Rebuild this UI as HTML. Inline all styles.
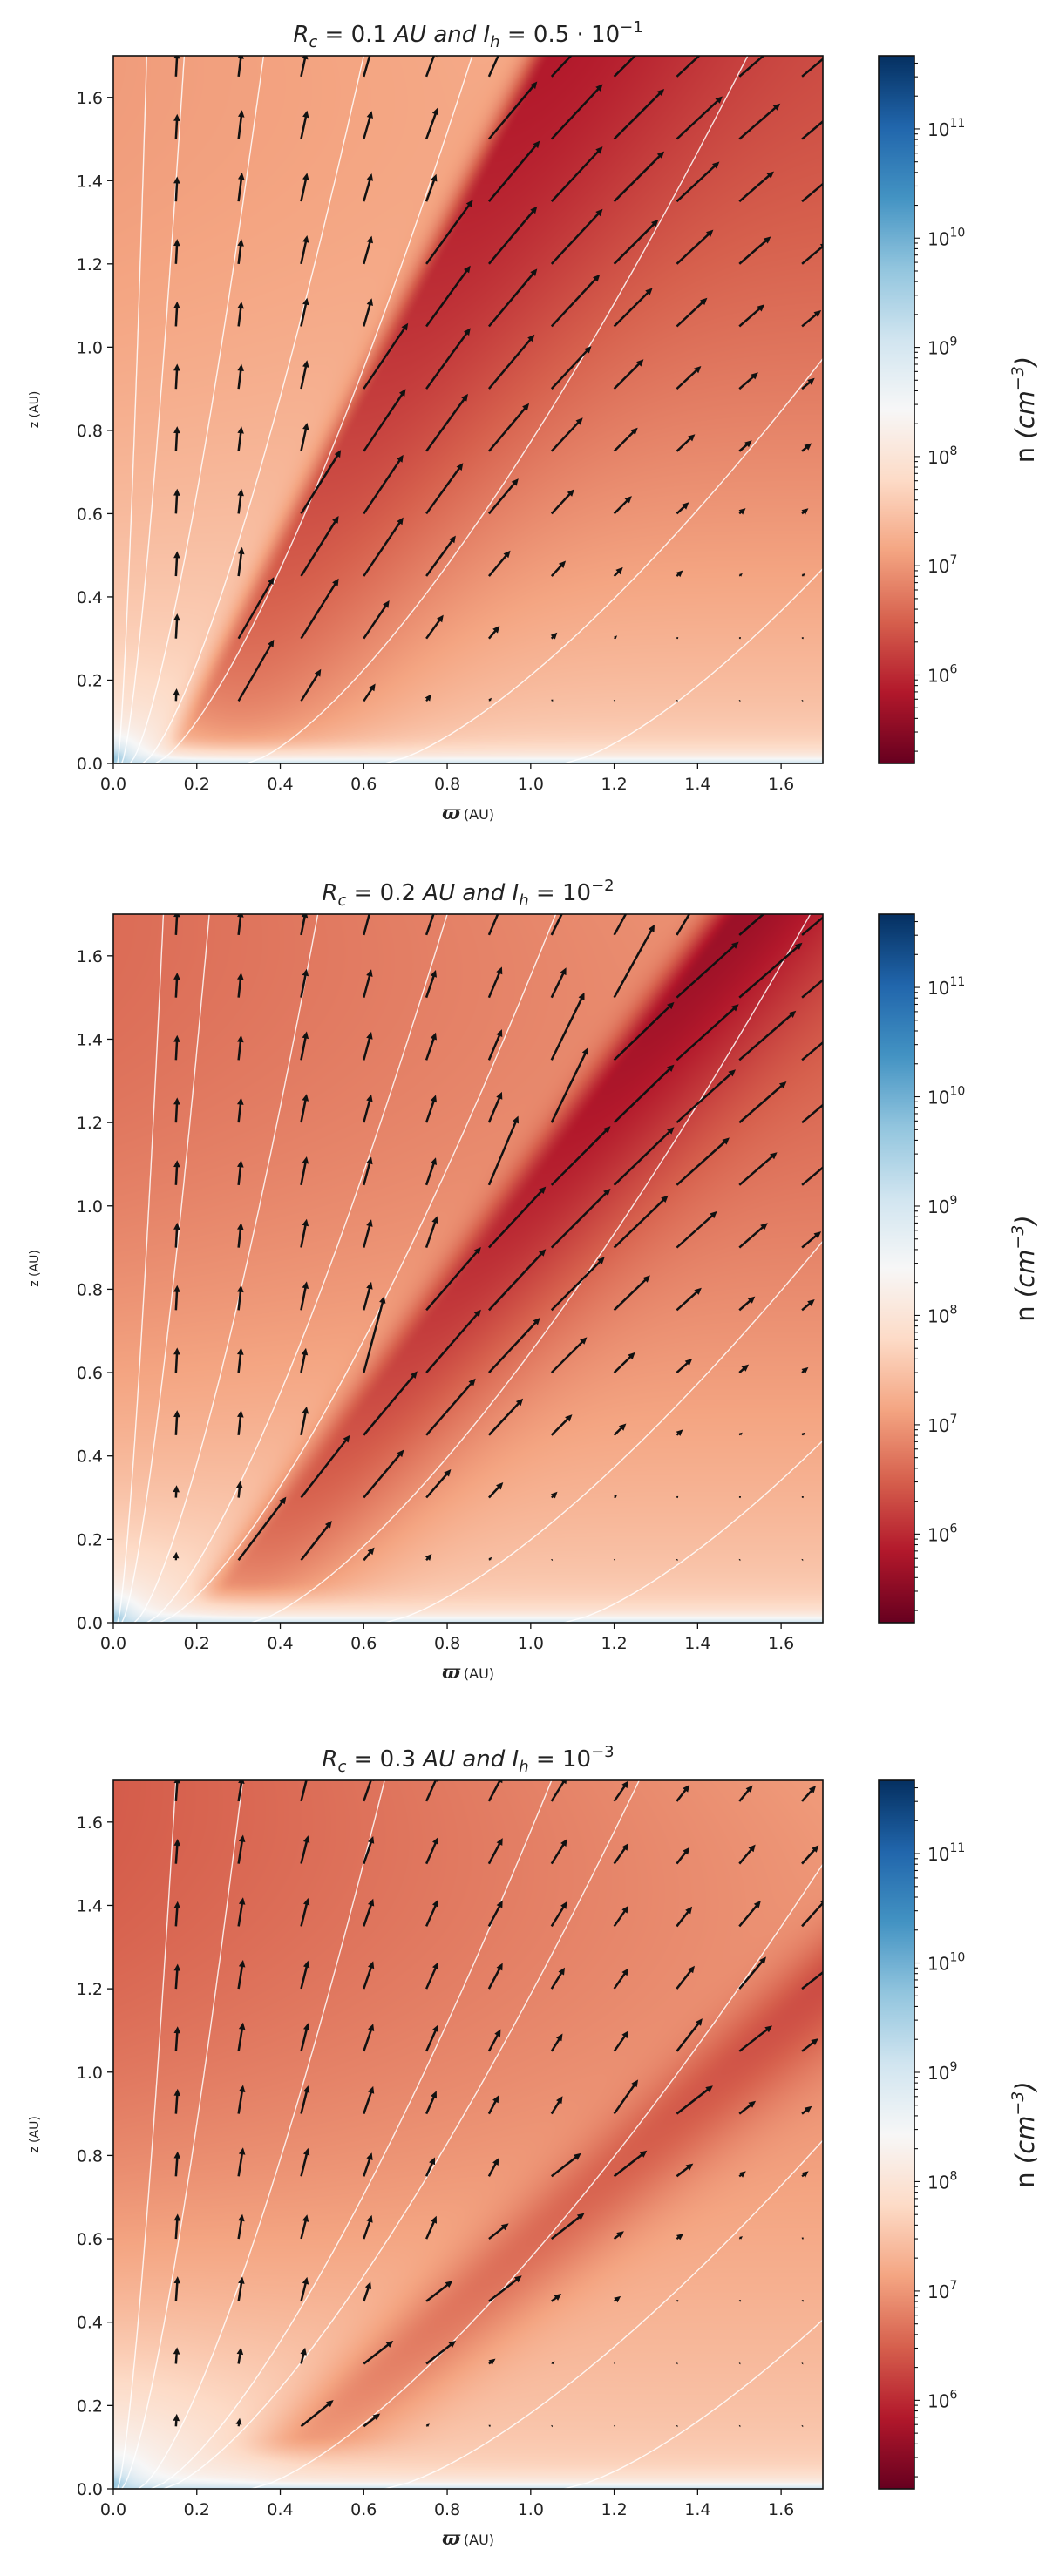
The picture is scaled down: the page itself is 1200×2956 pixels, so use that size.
<!DOCTYPE html>
<html><head><meta charset="utf-8">
<style>
html,body{margin:0;padding:0;background:#fff;}
#root{position:relative;width:1200px;height:2956px;overflow:hidden;background:#fff;}
canvas{position:absolute;}
svg{position:absolute;left:0;top:0;}
text{font-family:"DejaVu Sans","Liberation Sans",sans-serif;fill:#222;}
</style></head>
<body>
<div id="root">
<canvas id="hm0" width="814" height="812" style="left:130px;top:64px"></canvas>
<canvas id="hm1" width="814" height="813" style="left:130px;top:1049px"></canvas>
<canvas id="hm2" width="814" height="813" style="left:130px;top:2043px"></canvas>
<canvas id="cb0" width="41" height="812" style="left:1008px;top:64px"></canvas>
<canvas id="cb1" width="41" height="813" style="left:1008px;top:1049px"></canvas>
<canvas id="cb2" width="41" height="813" style="left:1008px;top:2043px"></canvas>
<svg id="ov" width="1200" height="2956"></svg>
</div>
<script>
// ===== data =====
const xTicks = [0.0,0.2,0.4,0.6,0.8,1.0,1.2,1.4,1.6];
const yTicks = [0.0,0.2,0.4,0.6,0.8,1.0,1.2,1.4,1.6];
const cbExponents = [6,7,8,9,10,11];
const cbRange = [5.19, 11.67];
const gridPos = [0.15,0.30,0.45,0.60,0.75,0.90,1.05,1.20,1.35,1.50,1.65];

// arrow lengths (0.01 AU), rows bottom (z=0.15) -> top, columns x=0.15..1.65
const p1Len = [
 [3,17,9,5,2,1,0.5,0.3,0.3,0.3,0.3],
 [6,17,17,11,7,4,2,1,0.5,0.5,0.5],
 [6,7,17,17,12,8,5,3,2,1,1],
 [6,6,18,17,15,11,8,6,4,2,2],
 [6,6,7,18,17,15,11,8,6,4,3],
 [6,6,7,19,18,17,14,10,8,6,4],
 [6,6,7,7,18,18,17,13,10,8,6],
 [6,6,7,7,19,18,18,15,12,10,8],
 [6,7,7,7,7,19,18,17,14,11,9],
 [6,7,7,7,8,18,18,17,15,13,10],
 [6,6,6,7,7,18,18,18,17,15,12]];
const p1AngL = [87,83,78,74,70,66,63,60,58,56,55];
const p1AngR = [62,60,58,56,54,50,47,45,43,41,40];
const p2Len = [
 [2,19,12,4,2,1,0.3,0.3,0.3,0.3,0.3],
 [3,4,19,15,9,5,2,1,0.5,0.5,0.5],
 [6,6,7,20,18,12,7,4,2,1,1],
 [6,6,6,19,20,18,12,7,5,3,2],
 [6,6,7,7,20,20,18,12,8,5,4],
 [6,6,7,7,8,20,20,18,13,9,6],
 [6,6,7,7,7,18,20,20,17,12,9],
 [6,6,7,7,7,8,20,20,19,15,12],
 [6,6,7,7,7,8,18,20,20,18,14],
 [6,6,7,7,7,8,8,20,20,20,17],
 [6,6,6,7,7,8,8,18,20,20,19]];
const p2AngL = [87,84,79,75,71,67,64,61,59,57,55];
const p2AngR = [55,53,52,50,49,47,45,44,42,41,40];
const p3Len = [
 [3,2,10,5,1,0.5,0.3,0.3,0.3,0.3,0.3],
 [4,4,4,9,9,2,1,0.3,0.3,0.3,0.3],
 [6,6,6,5,8,10,3,2,0.5,0.5,0.5],
 [6,6,6,6,6,6,10,3,2,1,0.5],
 [6,7,7,6,5,5,9,10,5,2,2],
 [6,7,7,7,6,5,5,10,11,5,3],
 [6,7,7,7,7,6,5,6,10,10,5],
 [6,7,7,7,7,7,6,6,7,10,9],
 [6,7,7,7,7,7,7,6,6,8,9],
 [6,7,7,7,7,7,7,6,5,6,6],
 [6,6,7,7,7,7,7,6,5,5,5]];
const p3AngL = [86,81,76,71,66,62,58,55,52,50,48];
const p3AngR = [42,40,39,38,38,38,38,38,38,38,38];

// field lines: footpoint x0 and x at z=1.7
const p1LineX0 = [0.01,0.02,0.04,0.07,0.10,0.32,0.65,1.08];
const p1LineXT = [0.08,0.17,0.36,0.60,0.86,1.52,2.22,2.65];
const p2LineX0 = [0.01,0.02,0.05,0.08,0.11,0.33,0.65,1.08];
const p2LineXT = [0.12,0.23,0.49,0.80,1.06,1.67,2.29,2.73];
const p3LineX0 = [0.01,0.02,0.06,0.09,0.12,0.33,0.65,1.08];
const p3LineXT = [0.15,0.31,0.65,1.05,1.26,1.83,2.40,2.82];

// density model parameters (log10 n)
const p1Band = [0.15,0.0,1.05,1.70];
const p1BandLog = [5.85,6.8];
const p1Levels = [7.05,7.85,6.35,7.6,0.15];
const p1Widths = [0.05,0.42,0.10];
const p2Band = [0.24,0.03,1.50,1.70];
const p2BandLog = [5.65,6.8];
const p2Levels = [6.6,7.85,6.45,7.6,0.25];
const p2Widths = [0.07,0.30,0.10];
const p3Band = [0.40,0.06,2.26,1.70];
const p3BandLog = [6.2,6.95];
const p3Levels = [6.45,7.9,6.75,7.6,0.35];
const p3Widths = [0.14,0.20,0.18];

const titles = [
 {rc:"0.1", ih:["0.5 · 10","−1"]},
 {rc:"0.2", ih:["10","−2"]},
 {rc:"0.3", ih:["10","−3"]}];

// ===== geometry =====
const PX=130, PW=814, TOPS=[64,1049,2043], PH=[812,813,813], XMAX=1.7;
const CBX=1008, CBW=41;
function sx(x){return PX + x/XMAX*PW;}
function sy(i,z){return TOPS[i] + PH[i] - z/XMAX*PH[i];}

const RDBU=[[103,0,31],[178,24,43],[214,96,77],[244,165,130],[253,219,199],[247,247,247],[209,229,240],[146,197,222],[67,147,195],[33,102,172],[5,48,97]];
function cmap(v){
  let f=(v-cbRange[0])/(cbRange[1]-cbRange[0]); f=Math.max(0,Math.min(1,f))*10;
  let k=Math.min(9,Math.floor(f)), t=f-k, a=RDBU[k], b=RDBU[k+1];
  return [a[0]+(b[0]-a[0])*t, a[1]+(b[1]-a[1])*t, a[2]+(b[2]-a[2])*t];
}
function sstep(a,b,x){let t=Math.max(0,Math.min(1,(x-a)/(b-a)));return t*t*(3-2*t);}

const P=[
 {band:p1Band,bl:p1BandLog,lev:p1Levels,w:p1Widths,len:p1Len,aL:p1AngL,aR:p1AngR,lx0:p1LineX0,lxt:p1LineXT},
 {band:p2Band,bl:p2BandLog,lev:p2Levels,w:p2Widths,len:p2Len,aL:p2AngL,aR:p2AngR,lx0:p2LineX0,lxt:p2LineXT},
 {band:p3Band,bl:p3BandLog,lev:p3Levels,w:p3Widths,len:p3Len,aL:p3AngL,aR:p3AngR,lx0:p3LineX0,lxt:p3LineXT}];

function xcOf(p,z){const b=p.band;return b[0]+(b[2]-b[0])*(z-b[1])/(b[3]-b[1]);}
function logn(p,x,z){
  const t=Math.max(0,Math.min(1,z/XMAX)), L=p.lev;
  const xc=xcOf(p,z);
  const left=L[0]+(L[1]-L[0])*Math.pow(1-t,2)+L[4]*Math.min(x,Math.max(xc,0))*t;
  const right=L[2]+(L[3]-L[2])*Math.pow(1-t,1.5);
  const bandv=p.bl[0]+(p.bl[1]-p.bl[0])*Math.pow(1-t,1.5);
  const h=x-xc;
  const s=sstep(p.band[1]-0.02,p.band[1]+0.07,z);
  const base=left+(right-left)/(1+Math.exp(-h/0.03));
  const w=h<0?p.w[0]:p.w[1];
  let v=base+(bandv-base)*Math.exp(-(h/w)*(h/w))*s;
  const r=Math.hypot(x,z);
  const eo=Math.exp(-r/p.w[2]);
  if(v<8.7) v=v+(8.7-v)*eo;
  v=v+(10.8-v)*Math.exp(-r/0.025);
  const wd=Math.exp(-z/0.016);
  v=v*(1-wd)+9.3*wd;
  const wh=Math.exp(-z/0.05);
  if(v<8.2) v=v+(8.2-v)*0.55*wh;
  return v;
}

// ===== heatmaps =====
for(let i=0;i<3;i++){
  const c=document.getElementById('hm'+i), ctx=c.getContext('2d');
  const W=c.width,H=c.height,img=ctx.createImageData(W,H),d=img.data;
  for(let py=0;py<H;py++){
    const z=(H-py-0.5)/H*XMAX;
    for(let px=0;px<W;px++){
      const x=(px+0.5)/W*XMAX;
      const col=cmap(logn(P[i],x,z)), o=(py*W+px)*4;
      d[o]=col[0];d[o+1]=col[1];d[o+2]=col[2];d[o+3]=255;
    }
  }
  ctx.putImageData(img,0,0);
  const cb=document.getElementById('cb'+i), cx=cb.getContext('2d');
  for(let py=0;py<cb.height;py++){
    const v=cbRange[1]-(py+0.5)/cb.height*(cbRange[1]-cbRange[0]);
    const col=cmap(v);
    cx.fillStyle='rgb('+col.map(Math.round).join(',')+')';
    cx.fillRect(0,py,cb.width,1);
  }
}

// ===== overlay =====
const NS='http://www.w3.org/2000/svg', ov=document.getElementById('ov');
function el(tag,attrs,parent){const e=document.createElementNS(NS,tag);for(const k in attrs)e.setAttribute(k,attrs[k]);(parent||ov).appendChild(e);return e;}

for(let i=0;i<3;i++){
  const p=P[i], top=TOPS[i], H=PH[i];
  const g=el('g',{});
  
  
  const cp=el('clipPath',{id:'clip'+i},g);
  el('rect',{x:PX,y:top,width:PW,height:H},cp);

  const fl=el('g',{'clip-path':'url(#clip'+i+')'},g);
  
  
  for(let k=0;k<p.lx0.length;k++){
    let pts=[];
    for(let j=0;j<=120;j++){
      const z=j/120*XMAX;
      const x=p.lx0[k]+(p.lxt[k]-p.lx0[k])*Math.pow(z/XMAX,0.72);
      pts.push(sx(x).toFixed(1)+','+sy(i,z).toFixed(1));
    }
    const pl=el('polyline',{points:pts.join(' '),fill:'none',stroke:'#ffffff','stroke-width':1.4,'stroke-opacity':0.85},fl);
    
    
  }

  const ag=el('g',{'clip-path':'url(#clip'+i+')'},g);
  
  
  for(let r=0;r<gridPos.length;r++){
    for(let c=0;c<gridPos.length;c++){
      const x=gridPos[c], z=gridPos[r], L=p.len[r][c]/100;
      const isLeft = x < xcOf(p,z)-p.w[0];
      const ang=(isLeft?p.aL[c]:p.aR[c])*Math.PI/180;
      const x0=sx(x), y0=sy(i,z);
      const lp=L/XMAX*PW;
      const ux=Math.cos(ang), uy=-Math.sin(ang), nx=-uy, ny=ux;
      let hl=8, hw=3.8, sw=1.25;
      if(lp<hl*1.3){const s=lp/(hl*1.3);hl*=s;hw*=Math.max(s,0.4);sw*=Math.max(s,0.5);}
      const sl=Math.max(0,lp-hl);
      const P1=[x0+nx*sw,y0+ny*sw],P2=[x0+ux*sl+nx*sw,y0+uy*sl+ny*sw],P3=[x0+ux*sl+nx*hw,y0+uy*sl+ny*hw],
            P4=[x0+ux*lp,y0+uy*lp],P5=[x0+ux*sl-nx*hw,y0+uy*sl-ny*hw],P6=[x0+ux*sl-nx*sw,y0+uy*sl-ny*sw],P7=[x0-nx*sw,y0-ny*sw];
      const pts=[P1,P2,P3,P4,P5,P6,P7].map(q=>q[0].toFixed(1)+','+q[1].toFixed(1)).join(' ');
      const a=el('polygon',{points:pts,fill:'#111'},ag);
      
      
    }
  }

  const fr=el('rect',{x:PX,y:top,width:PW,height:H,fill:'none',stroke:'#111','stroke-width':1.6},g);
  
  

  for(const t of xTicks){
    const X=sx(t);
    el('line',{x1:X,y1:top+H,x2:X,y2:top+H+7,stroke:'#111','stroke-width':1.3},g);
    const tx=el('text',{x:X,y:top+H+30,'text-anchor':'middle','font-size':19},g);
    tx.textContent=t.toFixed(1);
    
    
  }
  for(const t of yTicks){
    const Y=sy(i,t);
    el('line',{x1:PX-7,y1:Y,x2:PX,y2:Y,stroke:'#111','stroke-width':1.3},g);
    const ty=el('text',{x:PX-12,y:Y+7,'text-anchor':'end','font-size':19},g);
    ty.textContent=t.toFixed(1);
    
    
  }
  const xl=el('text',{x:537,y:top+H+64,'text-anchor':'middle','font-size':16},g);
  
  
  xl.innerHTML='<tspan font-family="DejaVu Serif, Liberation Serif, serif" font-style="italic" font-weight="bold" font-size="22">ϖ</tspan><tspan dx="4">(AU)</tspan>';
  const yl=el('text',{x:0,y:0,'text-anchor':'middle','font-size':14,transform:'translate(44,'+(top+H/2)+') rotate(-90)'},g);
  yl.textContent='z (AU)';
  
  
  const tt=el('text',{x:537,y:top-16,'text-anchor':'middle','font-size':26},g);
  
  
  const T=titles[i];
  tt.innerHTML='<tspan font-style="italic">R</tspan><tspan font-style="italic" font-size="18" dy="6">c</tspan><tspan dy="-6"> = '+T.rc+' </tspan><tspan font-style="italic">AU and I</tspan><tspan font-style="italic" font-size="18" dy="6">h</tspan><tspan dy="-6"> = '+T.ih[0]+'</tspan><tspan font-size="18" dy="-11">'+T.ih[1]+'</tspan>';

  const cbr=el('rect',{x:CBX,y:top,width:CBW,height:H,fill:'none',stroke:'#111','stroke-width':1.6},g);
  
  
  const cy=v=>top+(cbRange[1]-v)/(cbRange[1]-cbRange[0])*H;
  for(let e=5;e<=11;e++){
    for(let m=1;m<10;m++){
      const v=e+Math.log10(m);
      if(v<cbRange[0]||v>cbRange[1])continue;
      el('line',{x1:CBX+CBW,y1:cy(v),x2:CBX+CBW+(m===1?7:4),y2:cy(v),stroke:'#111','stroke-width':1.1},g);
    }
  }
  for(const e of cbExponents){
    const ct=el('text',{x:CBX+CBW+15,y:cy(e)+8,'font-size':20},g);
    ct.innerHTML='10<tspan font-size="14" dy="-10">'+e+'</tspan>';
    
    
  }
  const cl=el('text',{x:0,y:0,'text-anchor':'middle','font-size':29,transform:'translate(1186,'+(top+H/2)+') rotate(-90)'},g);
  cl.innerHTML='n <tspan font-style="italic">(cm</tspan><tspan font-size="19" dy="-12" font-style="italic">−3</tspan><tspan dy="12" font-style="italic">)</tspan>';
  
  
}
</script>
</body></html>
